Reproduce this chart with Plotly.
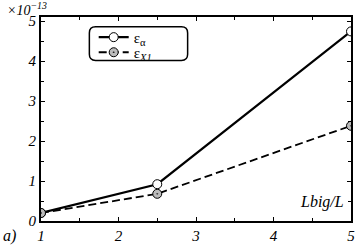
import plotly.graph_objects as go

x_vals = [1, 2.5, 5]
eps_alpha = [0.2, 0.92, 4.74]
eps_x1 = [0.2, 0.68, 2.38]
x_ticks = [1, 2, 3, 4, 5]
y_ticks = [0, 1, 2, 3, 4, 5]

FONT = "Liberation Serif"

fig = go.Figure()
fig.add_trace(go.Scatter(
    x=x_vals, y=eps_alpha, mode="lines+markers", name="ε<sub>α</sub>",
    line=dict(color="black", width=2.2),
    marker=dict(symbol="circle", size=9, color="white", line=dict(color="black", width=1)),
    legend="legend",
))
fig.add_trace(go.Scatter(
    x=x_vals, y=eps_x1, mode="lines+markers", name="ε<sub><i>X1</i></sub>",
    line=dict(color="black", width=1.8, dash="8px,4px"),
    marker=dict(symbol="circle-dot", size=9, color="#bbbbbb", line=dict(color="black", width=1)),
    legend="legend2",
))

axis_common = dict(
    showline=True, linecolor="black", linewidth=2, mirror="ticks",
    ticks="inside", ticklen=4, tickwidth=1, tickcolor="black",
    showgrid=False, zeroline=False,
    tickfont=dict(family=FONT, size=15, color="black", style="italic"),
)
fig.update_xaxes(range=[1, 5], tickvals=x_ticks, ticktext=[str(v) for v in x_ticks],
                 minor=dict(dtick=0.5, ticks="inside", ticklen=3, tickcolor="black"),
                 **axis_common)
fig.update_yaxes(range=[0, 5.1], tickvals=y_ticks, ticktext=[str(v) for v in y_ticks],
                 minor=dict(dtick=0.5, ticks="inside", ticklen=3, tickcolor="black"),
                 **axis_common)

# rounded legend box (paper coords)
x0, x1, y0, y1 = 0.156, 0.473, 0.787, 0.952
rx, ry = 0.02, 0.03
path = (f"M{x0+rx},{y0} L{x1-rx},{y0} Q{x1},{y0} {x1},{y0+ry} "
        f"L{x1},{y1-ry} Q{x1},{y1} {x1-rx},{y1} L{x0+rx},{y1} "
        f"Q{x0},{y1} {x0},{y1-ry} L{x0},{y0+ry} Q{x0},{y0} {x0+rx},{y0} Z")
fig.add_shape(type="path", path=path, xref="paper", yref="paper",
              line=dict(color="black", width=1.5), fillcolor="white", layer="below")

fig.add_annotation(text="×10<sup>−13</sup>", xref="paper", yref="paper", x=-0.115, y=1.095,
                   xanchor="left", yanchor="top", showarrow=False,
                   font=dict(family=FONT, size=14, color="black", style="italic"))
fig.add_annotation(text="Lbig/L", xref="paper", yref="paper", x=0.985, y=0.04,
                   xanchor="right", yanchor="bottom", showarrow=False,
                   font=dict(family=FONT, size=16, color="black", style="italic"))
fig.add_annotation(text="a)", xref="paper", yref="paper", x=-0.13, y=-0.02,
                   xanchor="left", yanchor="top", showarrow=False,
                   font=dict(family=FONT, size=16, color="black", style="italic"))

leg_common = dict(xanchor="left", yanchor="middle", bgcolor="rgba(0,0,0,0)", borderwidth=0,
                  font=dict(family=FONT, size=15, color="black"), itemwidth=30)
fig.update_layout(
    width=360, height=249,
    margin=dict(l=41, r=5, t=17, b=24),
    plot_bgcolor="white", paper_bgcolor="white",
    showlegend=True,
    legend=dict(x=0.17, y=0.9, **leg_common),
    legend2=dict(x=0.17, y=0.826, **leg_common),
)

fig.write_html("out.html", config={"displayModeBar": False},
               post_script="document.body.style.margin='0';document.body.style.overflow='hidden';")
